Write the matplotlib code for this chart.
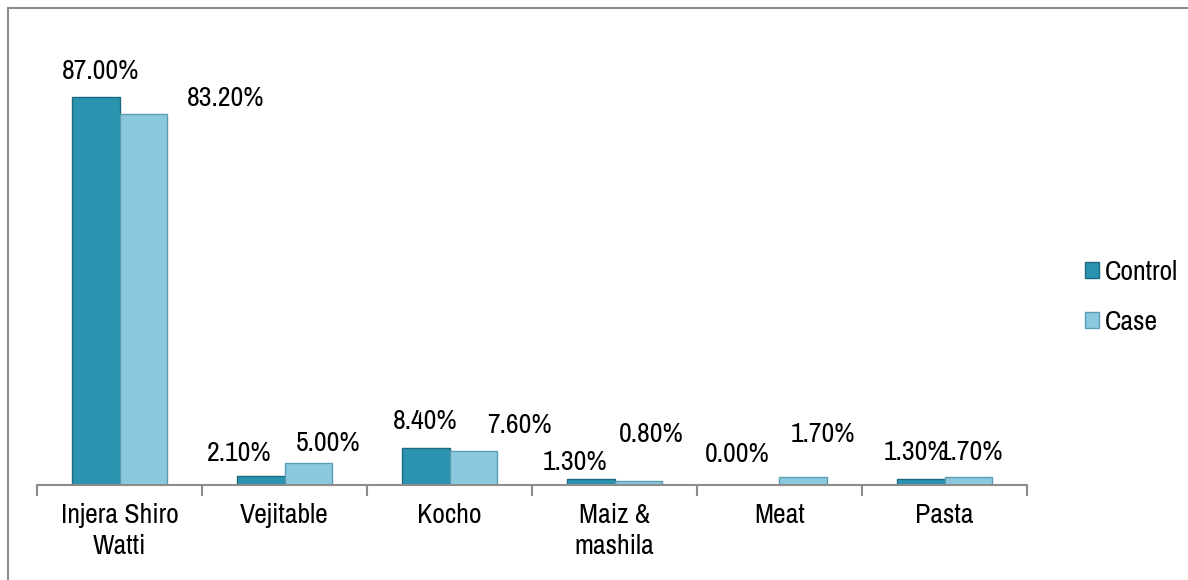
import matplotlib
matplotlib.use("Agg")
import matplotlib.pyplot as plt
import numpy as np

# food type eaten, control vs case (%)
foods = ["Injera Shiro\nWatti", "Vejitable", "Kocho", "Maiz &\nmashila", "Meat", "Pasta"]
control = [87.0, 2.1, 8.4, 1.3, 0.0, 1.3]
case = [83.2, 5.0, 7.6, 0.8, 1.7, 1.7]

# label offsets from bar top (pixels)
control_off = [(5, -25), (-21, -22), (0, -26), (-16, -17), (-18, -30), (-5, -27)]
case_off = [(82, -15), (20, -19), (46, -26), (13, -47), (19, -43), (2, -25)]

plt.rcParams["font.family"] = ["Archivo Narrow", "DejaVu Sans"]

fig = plt.figure(figsize=(11.88, 5.8), dpi=100)
# outer chart border
fig.add_artist(plt.Line2D([8 / 1188, 8 / 1188], [0, 1 - 8 / 580], color="#8c8c8c", lw=1.5))
fig.add_artist(plt.Line2D([8 / 1188, 1], [1 - 8 / 580, 1 - 8 / 580], color="#8c8c8c", lw=1.5))

ax = fig.add_axes([37 / 1188, 1 - 485 / 580, (1027 - 37) / 1188, (485 - 39) / 580])

x = np.arange(len(foods))
w = 0.29
b1 = ax.bar(x - w / 2, control, w, color="#2a94b0", edgecolor="#1c6a80", lw=1, label="Control")
b2 = ax.bar(x + w / 2, case, w, color="#8dc9de", edgecolor="#5b9db3", lw=1, label="Case")

for bars, vals, offs in [(b1, control, control_off), (b2, case, case_off)]:
    for bar, v, (dx, dy) in zip(bars, vals, offs):
        ax.annotate(f"{v:.2f}%", (bar.get_x() + bar.get_width() / 2, v),
                    xytext=(dx, -dy), textcoords="offset pixels",
                    ha="center", va="center", fontsize=20)

ax.set_xlim(-0.5, len(foods) - 0.5)
ax.set_ylim(0, 100)
ax.set_yticks([])
ax.set_xticks(np.arange(len(foods) + 1) - 0.5)
ax.set_xticklabels([])
ax.tick_params(axis="x", length=8, color="#8c8c8c", width=1.5)
for i, name in enumerate(foods):
    ax.text(i, -4.0, name, ha="center", va="top", fontsize=20, linespacing=1.3)
for s in ["top", "right", "left"]:
    ax.spines[s].set_visible(False)
ax.spines["bottom"].set_color("#8c8c8c")
ax.spines["bottom"].set_linewidth(1.5)

fig.legend(handles=[b1, b2], loc="center left", bbox_to_anchor=(1060 / 1188, 1 - 297 / 580),
           frameon=False, fontsize=20, handlelength=0.5, handleheight=0.5,
           handletextpad=0.2, labelspacing=0.9)

fig.savefig("out.png", dpi=100)
